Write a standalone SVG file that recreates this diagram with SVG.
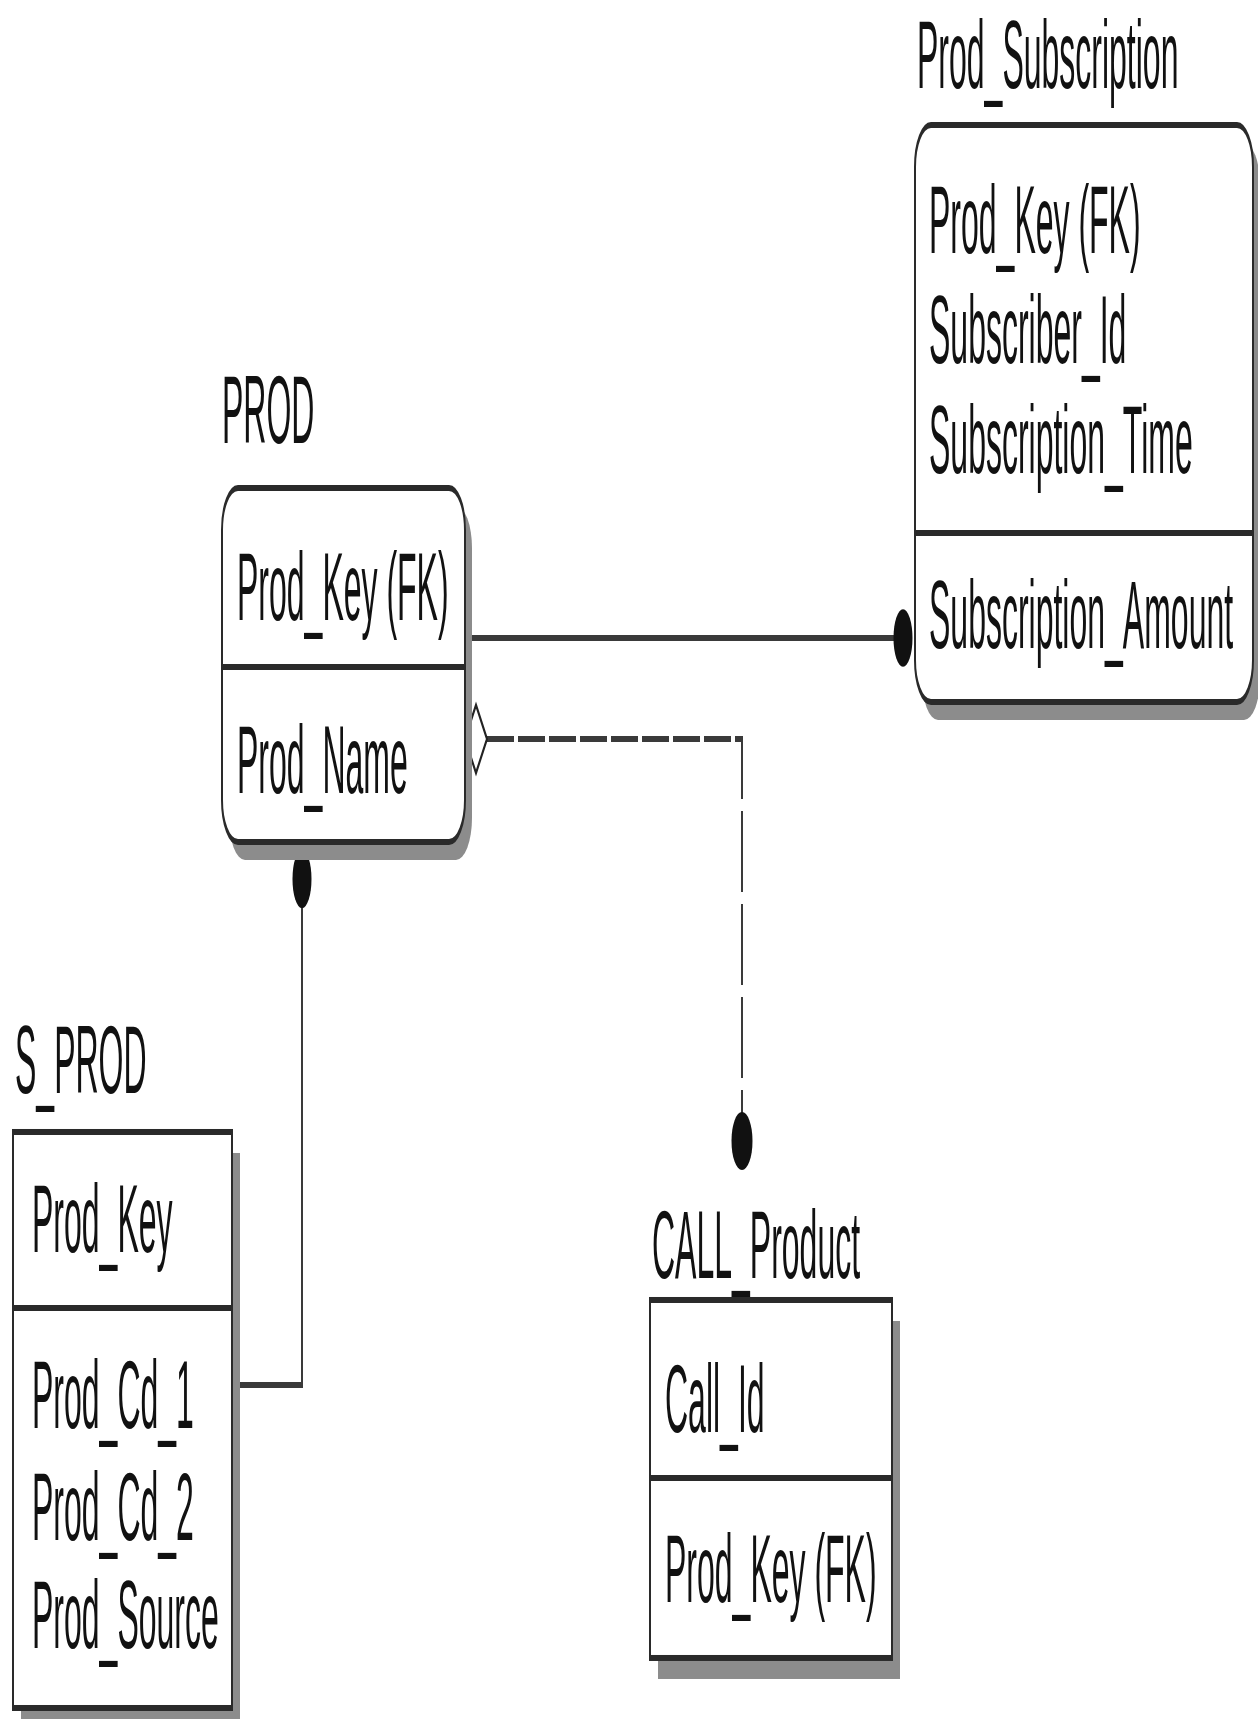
<svg xmlns="http://www.w3.org/2000/svg" width="1258" height="1719" viewBox="0 0 1258 1719">
<style>
.t{font-family:"Liberation Sans",Arial,sans-serif;font-size:32px;fill:#111}
.box{fill:#fff;stroke:#2a2a2a;stroke-width:2}
.sh{fill:#8c8c8c}
.div{stroke:#2a2a2a;stroke-width:2}
.ln{fill:none;stroke:#3a3a3a;stroke-width:2}
.dash{fill:none;stroke:#3a3a3a;stroke-width:2;stroke-dasharray:27 4}
.dot{fill:#111}
.dia{fill:#fff;stroke:#222;stroke-width:1.6}
</style>
<rect width="1258" height="1719" fill="#fff"/>
<g transform="scale(1,3)">
  <g id="connectors">
    <line class="ln" x1="465" y1="212.67" x2="903" y2="212.67"/>
    <ellipse class="dot" cx="903" cy="212.67" rx="9.5" ry="9.6"/>
    <path class="ln" d="M232 461.67 H302 V282"/>
    <ellipse class="dot" cx="302" cy="293" rx="9.5" ry="9.7"/>
    <path class="dash" d="M487 246.33 H742 V376"/>
    <polygon class="dia" points="465,246.33 476,235 487,246.33 476,257.67"/>
    <ellipse class="dot" cx="742" cy="380.33" rx="10.5" ry="9.7"/>
  </g>
  <g id="prod_subscription">
    <text class="t" x="917" y="29.2">Prod_Subscription</text>
    <rect class="sh" x="922" y="47.67" width="338" height="192.33" rx="16" ry="14"/>
    <rect class="box" x="915" y="41.67" width="338" height="192.33" rx="16" ry="14"/>
    <line class="div" x1="915" y1="177.67" x2="1253" y2="177.67"/>
    <text class="t" x="929" y="84.33">Prod_Key (FK)</text>
    <text class="t" x="929" y="121">Subscriber_Id</text>
    <text class="t" x="929" y="157.67">Subscription_Time</text>
    <text class="t" x="929" y="216">Subscription_Amount</text>
  </g>
  <g id="prod">
    <text class="t" x="222" y="147.67">PROD</text>
    <rect class="sh" x="229" y="168.67" width="243" height="118" rx="16" ry="14"/>
    <rect class="box" x="222" y="162.67" width="243" height="118" rx="16" ry="14"/>
    <line class="div" x1="222" y1="222.33" x2="465" y2="222.33"/>
    <text class="t" x="237" y="206.67">Prod_Key (FK)</text>
    <text class="t" x="237" y="264.33">Prod_Name</text>
  </g>
  <g id="s_prod">
    <text class="t" x="15" y="364.33">S_PROD</text>
    <rect class="sh" x="21" y="384.33" width="219" height="192"/>
    <rect class="box" x="13" y="377.33" width="219" height="192"/>
    <line class="div" x1="13" y1="436" x2="232" y2="436"/>
    <text class="t" x="32" y="417.33">Prod_Key</text>
    <text class="t" x="32" y="476">Prod_Cd_1</text>
    <text class="t" x="32" y="513.33">Prod_Cd_2</text>
    <text class="t" x="32" y="549.33">Prod_Source</text>
  </g>
  <g id="call_product">
    <text class="t" x="652" y="426">CALL_Product</text>
    <rect class="sh" x="658" y="440.33" width="242" height="119.33"/>
    <rect class="box" x="650" y="433.33" width="242" height="119.33"/>
    <line class="div" x1="650" y1="492.67" x2="892" y2="492.67"/>
    <text class="t" x="665" y="477.33">Call_Id</text>
    <text class="t" x="665" y="534">Prod_Key (FK)</text>
  </g>
</g>
</svg>
